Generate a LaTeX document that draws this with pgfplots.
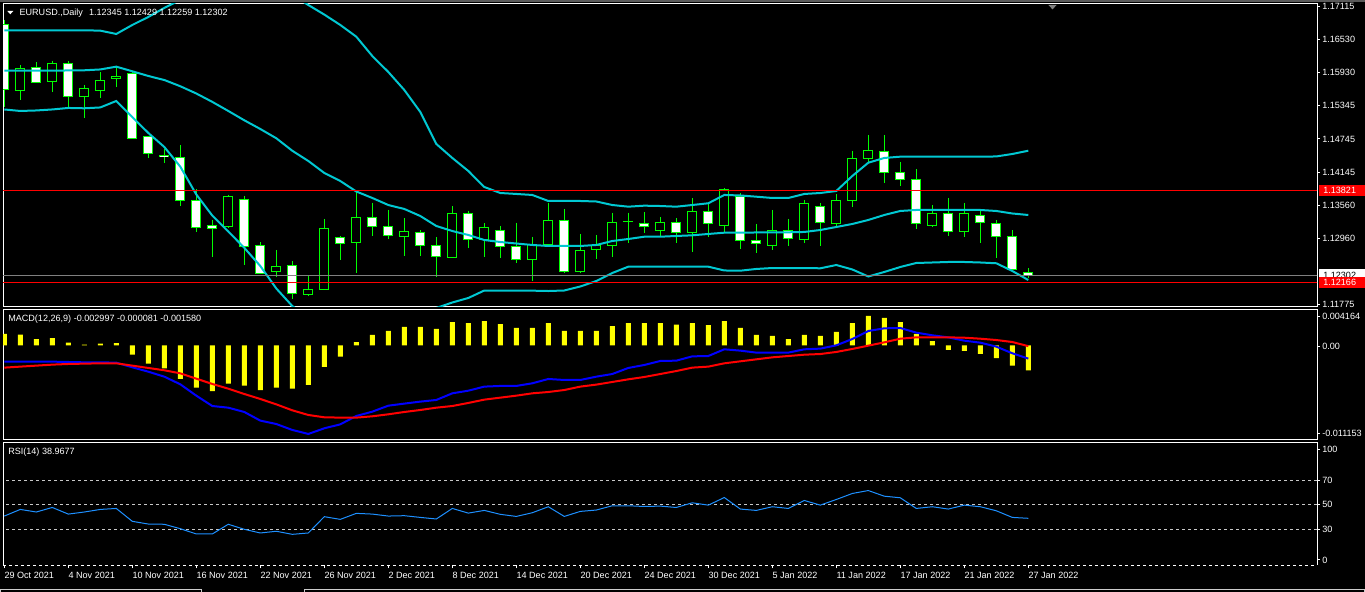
\documentclass[border=0pt]{standalone}
\usepackage{fontspec}
\setmainfont{Liberation Sans}
\usepackage{pgfplots}
\pgfplotsset{compat=1.18}
\usepackage{pgfplotstable}

\definecolor{bull}{RGB}{0,255,0}
\definecolor{band}{RGB}{0,200,210}
\definecolor{mtred}{RGB}{255,0,0}
\definecolor{mtyellow}{RGB}{255,255,0}
\definecolor{mtblue}{RGB}{0,0,255}
\definecolor{rsiblue}{RGB}{30,144,255}
\definecolor{bidgray}{RGB}{128,128,128}
\definecolor{levelgray}{RGB}{200,200,200}
\newcommand\mtfont{\fontsize{6.8}{8}\selectfont}

% EURUSD daily candles, bar 0 = 29 Oct 2021
\pgfplotstableread{
i o h l c
0 1.16787 1.16877 1.15318 1.15622
1 1.15604 1.16070 1.15443 1.16011
2 1.16022 1.16119 1.15742 1.15760
3 1.15783 1.16147 1.15592 1.16101
4 1.16101 1.16142 1.15312 1.15509
5 1.15502 1.15712 1.15115 1.15653
6 1.15617 1.15939 1.15484 1.15789
7 1.15825 1.16052 1.15681 1.15868
8 1.15909 1.15950 1.14739 1.14757
9 1.14780 1.14798 1.14409 1.14488
10 1.14457 1.14565 1.14319 1.14422
11 1.14416 1.14637 1.13549 1.13646
12 1.13646 1.13843 1.13083 1.13162
13 1.13190 1.13293 1.12635 1.13144
14 1.13173 1.13741 1.13144 1.13717
15 1.13664 1.13723 1.12486 1.12814
16 1.12832 1.12893 1.12325 1.12337
17 1.12373 1.12755 1.12266 1.12463
18 1.12474 1.12558 1.11877 1.11979
19 1.11961 1.12294 1.11931 1.12051
20 1.12051 1.13311 1.12038 1.13144
21 1.12983 1.13006 1.12576 1.12863
22 1.12893 1.13812 1.12348 1.13341
23 1.13341 1.13603 1.13011 1.13180
24 1.13180 1.13472 1.12947 1.13018
25 1.13001 1.13323 1.12647 1.13090
26 1.13072 1.13113 1.12653 1.12839
27 1.12832 1.12983 1.12266 1.12647
28 1.12624 1.13543 1.12610 1.13413
29 1.13413 1.13459 1.12785 1.12934
30 1.12934 1.13234 1.12635 1.13162
31 1.13113 1.13185 1.12606 1.12821
32 1.12821 1.13244 1.12527 1.12588
33 1.12588 1.12988 1.12205 1.12845
34 1.12845 1.13603 1.12803 1.13287
35 1.13287 1.13490 1.12348 1.12366
36 1.12366 1.13042 1.12337 1.12750
37 1.12768 1.13024 1.12599 1.12832
38 1.12832 1.13423 1.12635 1.13251
39 1.13269 1.13423 1.12886 1.13269
40 1.13234 1.13436 1.13054 1.13173
41 1.13101 1.13346 1.12993 1.13251
42 1.13251 1.13323 1.12886 1.13065
43 1.13065 1.13681 1.12725 1.13449
44 1.13449 1.13592 1.12983 1.13226
45 1.13190 1.13861 1.13054 1.13843
46 1.13717 1.13771 1.12773 1.12929
47 1.12929 1.13221 1.12707 1.12875
48 1.12832 1.13472 1.12760 1.13108
49 1.13108 1.13311 1.12832 1.12965
50 1.12947 1.13651 1.12886 1.13592
51 1.13538 1.13597 1.12832 1.13251
52 1.13226 1.13753 1.13144 1.13646
53 1.13638 1.14529 1.13531 1.14398
54 1.14391 1.14816 1.14309 1.14542
55 1.14524 1.14816 1.13961 1.14140
56 1.14147 1.14332 1.13907 1.14022
57 1.14022 1.14201 1.13131 1.13234
58 1.13190 1.13561 1.13173 1.13413
59 1.13413 1.13681 1.13011 1.13090
60 1.13090 1.13597 1.12988 1.13413
61 1.13377 1.13459 1.12886 1.13251
62 1.13234 1.13293 1.12617 1.13001
63 1.13001 1.13113 1.12397 1.12409
64 1.12345 1.12429 1.12259 1.12302
}\ohlc

% Bollinger bands (20)
\pgfplotstableread{
i up mid lo
0 1.16692 1.15968 1.15273
1 1.16692 1.15968 1.15246
2 1.16692 1.15968 1.15255
3 1.16692 1.15968 1.15273
4 1.16692 1.15972 1.15300
5 1.16692 1.15975 1.15294
6 1.16685 1.15990 1.15309
7 1.16626 1.16040 1.15425
8 1.16787 1.15957 1.15138
9 1.16930 1.15873 1.14852
10 1.17092 1.15801 1.14601
11 1.17235 1.15689 1.14248
12 1.17369 1.15559 1.13750
13 1.17446 1.15409 1.13371
14 1.17405 1.15246 1.13087
15 1.17375 1.15079 1.12794
16 1.17378 1.14923 1.12468
17 1.17450 1.14757 1.12065
18 1.17325 1.14533 1.11751
19 1.17145 1.14350 1.11554
20 1.16973 1.14135 1.11303
21 1.16787 1.13991 1.11196
22 1.16577 1.13803 1.11035
23 1.16231 1.13687 1.11142
24 1.15945 1.13561 1.11178
25 1.15622 1.13490 1.11357
26 1.15228 1.13364 1.11501
27 1.14655 1.13185 1.11716
28 1.14404 1.13095 1.11814
29 1.14171 1.13024 1.11895
30 1.13884 1.12934 1.12029
31 1.13776 1.12898 1.12029
32 1.13759 1.12871 1.12026
33 1.13741 1.12845 1.12026
34 1.13633 1.12827 1.12020
35 1.13633 1.12827 1.12029
36 1.13633 1.12827 1.12101
37 1.13624 1.12845 1.12199
38 1.13561 1.12916 1.12343
39 1.13531 1.12952 1.12456
40 1.13549 1.12993 1.12456
41 1.13543 1.12993 1.12456
42 1.13531 1.13006 1.12456
43 1.13561 1.13018 1.12456
44 1.13592 1.13042 1.12456
45 1.13741 1.13065 1.12388
46 1.13732 1.13065 1.12384
47 1.13710 1.13069 1.12415
48 1.13687 1.13069 1.12432
49 1.13687 1.13072 1.12432
50 1.13759 1.13078 1.12432
51 1.13776 1.13113 1.12427
52 1.13812 1.13167 1.12486
53 1.14081 1.13221 1.12406
54 1.14319 1.13293 1.12280
55 1.14404 1.13382 1.12361
56 1.14427 1.13454 1.12450
57 1.14427 1.13472 1.12522
58 1.14427 1.13472 1.12531
59 1.14427 1.13472 1.12540
60 1.14427 1.13472 1.12540
61 1.14427 1.13472 1.12531
62 1.14431 1.13454 1.12517
63 1.14475 1.13409 1.12379
64 1.14534 1.13382 1.12217
}\bands

% MACD histogram, signal (red), main (blue) and RSI(14)
\pgfplotstableread{
i hist sig macd rsi
0 0.00139 -0.00267 -0.00195 40.8
1 0.00131 -0.00255 -0.00195 46.2
2 0.00078 -0.00243 -0.00195 44.1
3 0.00090 -0.00231 -0.00195 47.8
4 0.00034 -0.00223 -0.00199 42.4
5 0.00010 -0.00219 -0.00203 44.1
6 0.00022 -0.00215 -0.00203 46.2
7 0.00030 -0.00215 -0.00207 47.0
8 -0.00111 -0.00243 -0.00263 36.5
9 -0.00219 -0.00271 -0.00316 34.3
10 -0.00275 -0.00299 -0.00376 34.1
11 -0.00404 -0.00336 -0.00468 30.5
12 -0.00509 -0.00400 -0.00605 26.2
13 -0.00549 -0.00464 -0.00730 26.2
14 -0.00460 -0.00521 -0.00750 34.1
15 -0.00484 -0.00585 -0.00802 30.0
16 -0.00537 -0.00645 -0.00906 27.0
17 -0.00509 -0.00710 -0.00947 28.4
18 -0.00521 -0.00782 -0.01019 25.9
19 -0.00476 -0.00838 -0.01067 27.0
20 -0.00259 -0.00866 -0.00999 40.3
21 -0.00135 -0.00870 -0.00951 38.1
22 0.00042 -0.00870 -0.00850 43.0
23 0.00127 -0.00854 -0.00798 42.4
24 0.00175 -0.00830 -0.00726 40.8
25 0.00223 -0.00802 -0.00701 41.1
26 0.00223 -0.00778 -0.00677 39.7
27 0.00199 -0.00750 -0.00657 38.4
28 0.00283 -0.00730 -0.00577 47.0
29 0.00271 -0.00693 -0.00545 43.2
30 0.00295 -0.00653 -0.00496 45.4
31 0.00259 -0.00629 -0.00488 42.2
32 0.00211 -0.00605 -0.00488 40.5
33 0.00211 -0.00577 -0.00456 43.5
34 0.00271 -0.00561 -0.00404 48.4
35 0.00175 -0.00537 -0.00416 40.5
36 0.00175 -0.00496 -0.00416 44.6
37 0.00175 -0.00472 -0.00376 45.7
38 0.00235 -0.00440 -0.00344 49.2
39 0.00271 -0.00408 -0.00271 49.2
40 0.00271 -0.00380 -0.00235 48.6
41 0.00271 -0.00344 -0.00187 48.9
42 0.00251 -0.00308 -0.00183 47.8
43 0.00269 -0.00267 -0.00131 51.6
44 0.00247 -0.00255 -0.00127 49.7
45 0.00295 -0.00215 -0.00046 55.9
46 0.00211 -0.00191 -0.00062 46.5
47 0.00127 -0.00167 -0.00086 45.4
48 0.00115 -0.00143 -0.00086 48.4
49 0.00078 -0.00127 -0.00086 47.0
50 0.00127 -0.00111 -0.00046 53.5
51 0.00115 -0.00103 -0.00038 49.7
52 0.00163 -0.00078 0.00002 54.3
53 0.00271 -0.00042 0.00078 59.2
54 0.00356 -0.00002 0.00175 61.6
55 0.00332 0.00038 0.00207 57.0
56 0.00283 0.00082 0.00211 55.7
57 0.00139 0.00098 0.00155 47.0
58 0.00054 0.00098 0.00123 48.4
59 -0.00054 0.00098 0.00098 46.5
60 -0.00066 0.00094 0.00058 49.7
61 -0.00102 0.00082 0.00034 48.4
62 -0.00151 0.00066 -0.00014 45.1
63 -0.00243 0.00042 -0.00094 39.7
64 -0.00300 -0.00008 -0.00158 38.97
}\ind

\pgfplotsset{
  mt panel/.style={
    scale only axis, width=985.5pt, anchor=south west,
    xmin=-0.08125, xmax=82.04375,
    axis line style={white, line width=0.75pt},
    clip mode=individual,
    scaled y ticks=false,
    xtick=\empty,
    ytick pos=right, yticklabel pos=right,
    tick align=outside, major tick length=2.25pt,
    tick style={white, line width=0.75pt},
    tick label style={font=\mtfont, text=white},
    yticklabel style={anchor=west, inner sep=0pt, xshift=1.5pt},
  },
  candle/.style={draw=none, mark=none, forget plot,
    error bars/.cd, y dir=both, y explicit, error mark=none,
    error bar style={#1}},
}

\begin{document}
\begin{tikzpicture}[x=0.75pt,y=0.75pt]
\fill[black] (0,0) rectangle (1365,592);
\fill[bidgray!70!black] (0,589.8) rectangle (1365,592);

% price panel
\begin{axis}[mt panel, at={(2.25pt,213.975pt)}, height=227.03pt,
  ymin=1.11739, ymax=1.17163,
  ytick={1.17115,1.16530,1.15930,1.15345,1.14745,1.14145,1.13560,1.12960,1.11775},
  yticklabels={1.17115,1.16530,1.15930,1.15345,1.14745,1.14145,1.13560,1.12960,1.11775}]
\addplot[candle={bull, line width=0.75pt}] table[x=i, y=h,
  y error plus expr=0, y error minus expr=\thisrow{h}-\thisrow{l}] {\ohlc};
\addplot[candle={bull, line width=7.5pt}] table[x=i,
  y expr={max(\thisrow{o},\thisrow{c})+0.0000896},
  y error plus expr=0, y error minus expr={abs(\thisrow{o}-\thisrow{c})+0.0001792}] {\ohlc};
\addplot[candle={white, line width=6pt}] table[x=i,
  y expr={\thisrow{c}<\thisrow{o} ? \thisrow{o}-0.0000896 : 1.1},
  y error plus expr=0, y error minus expr={max(\thisrow{o}-\thisrow{c}-0.0001792,0)}] {\ohlc};
\addplot[candle={black, line width=6pt}] table[x=i,
  y expr={\thisrow{c}<\thisrow{o} ? 1.1 : \thisrow{c}-0.0000896},
  y error plus expr=0, y error minus expr={max(\thisrow{c}-\thisrow{o}-0.0001792,0)}] {\ohlc};
\addplot[band, line width=1.5pt] table[x=i, y=up] {\bands};
\addplot[band, line width=1.5pt] table[x=i, y=mid] {\bands};
\addplot[band, line width=1.5pt] table[x=i, y=lo] {\bands};
\addplot[bidgray, line width=0.75pt] coordinates {(-1,1.12302) (83,1.12302)};
\addplot[mtred, line width=0.75pt] coordinates {(-1,1.13821) (83,1.13821)};
\addplot[mtred, line width=0.75pt] coordinates {(-1,1.12166) (83,1.12166)};
\node[fill=white, minimum width=34.5pt, minimum height=9pt, inner sep=0pt, anchor=west, xshift=1.5pt] at (axis cs:82.04375,1.12302) {};
\node[text=black, font=\mtfont, inner sep=0pt, anchor=west, xshift=4.5pt] at (axis cs:82.04375,1.12302) {1.12302};
\node[fill=mtred, minimum width=34.5pt, minimum height=8.4pt, inner sep=0pt, anchor=west, xshift=1.5pt] at (axis cs:82.04375,1.12166) {};
\node[text=white, font=\mtfont, inner sep=0pt, anchor=west, xshift=4.5pt] at (axis cs:82.04375,1.12166) {1.12166};
\node[fill=mtred, minimum width=34.5pt, minimum height=8.4pt, inner sep=0pt, anchor=west, xshift=1.5pt] at (axis cs:82.04375,1.13821) {};
\node[text=white, font=\mtfont, inner sep=0pt, anchor=west, xshift=4.5pt] at (axis cs:82.04375,1.13821) {1.13821};
\end{axis}

% MACD panel
\begin{axis}[mt panel, at={(2.25pt,114pt)}, height=98.03pt,
  ymin=-0.011398, ymax=0.004366,
  ytick={0.003474,-0.000145,-0.01059},
  yticklabels={0.004164,0.00,-0.011153}]
\addplot[ybar, bar width=3.75pt, fill=mtyellow, draw=none] table[x=i, y=hist] {\ind};
\addplot[mtblue, line width=1.5pt] table[x=i, y=macd] {\ind};
\addplot[mtred, line width=1.5pt] table[x=i, y=sig] {\ind};
\end{axis}

% RSI panel
\begin{axis}[mt panel, at={(2.25pt,19.875pt)}, height=92.1pt,
  ymin=0.5, ymax=100.6,
  ytick={95.2,70,50,30,5}, yticklabels={100,70,50,30,0},
  axis line style={draw=none},
  xtick={0,4,...,64}, xtick pos=left,
  xticklabels={29 Oct 2021,4 Nov 2021,10 Nov 2021,16 Nov 2021,22 Nov 2021,26 Nov 2021,2 Dec 2021,8 Dec 2021,14 Dec 2021,20 Dec 2021,24 Dec 2021,30 Dec 2021,5 Jan 2022,11 Jan 2022,17 Jan 2022,21 Jan 2022,27 Jan 2022},
  xticklabel style={anchor=north west, inner sep=0pt, yshift=-2.25pt}]
\addplot[levelgray, line width=0.75pt, dash pattern=on 2.25pt off 2.25pt] coordinates {(-1,70) (83,70)};
\addplot[levelgray, line width=0.75pt, dash pattern=on 2.25pt off 2.25pt] coordinates {(-1,50) (83,50)};
\addplot[levelgray, line width=0.75pt, dash pattern=on 2.25pt off 2.25pt] coordinates {(-1,30) (83,30)};
\addplot[rsiblue, line width=0.75pt] table[x=i, y=rsi] {\ind};
\draw[white, line width=0.75pt] (rel axis cs:0,0) -- (rel axis cs:0,1) -- (rel axis cs:1,1) -- (rel axis cs:1,0);
\draw[white, line width=0.75pt, dash pattern=on 2.25pt off 2.25pt] (rel axis cs:0,0) -- (rel axis cs:1,0);
\end{axis}

% chart captions
\fill[white] (7.3,581) -- (13.3,581) -- (10.3,577.7) -- cycle;
\node[anchor=base west, inner sep=0pt, text=white, font=\mtfont] at (19.3,576) {EURUSD.,Daily\hspace{4.5pt}1.12345 1.12429 1.12259 1.12302};
\node[anchor=base west, inner sep=0pt, text=white, font=\mtfont] at (8,270.3) {MACD(12,26,9) -0.002997 -0.000081 -0.001580};
\node[anchor=base west, inner sep=0pt, text=white, font=\mtfont] at (8,137) {RSI(14) 38.9677};
\fill[bidgray] (1048.3,587) -- (1056.7,587) -- (1052.5,582.7) -- cycle;
\draw[white!80!black, line width=0.75pt] (0.4,0) -- (0.4,2.7) -- (201.7,2.7) -- (201.7,0);
\draw[white!80!black, line width=0.75pt] (304,0) -- (304,2.7) -- (1364.6,2.7) -- (1364.6,0);
\pgfresetboundingbox
\path[use as bounding box] (0,0) rectangle (1365,592);
\end{tikzpicture}
\end{document}
